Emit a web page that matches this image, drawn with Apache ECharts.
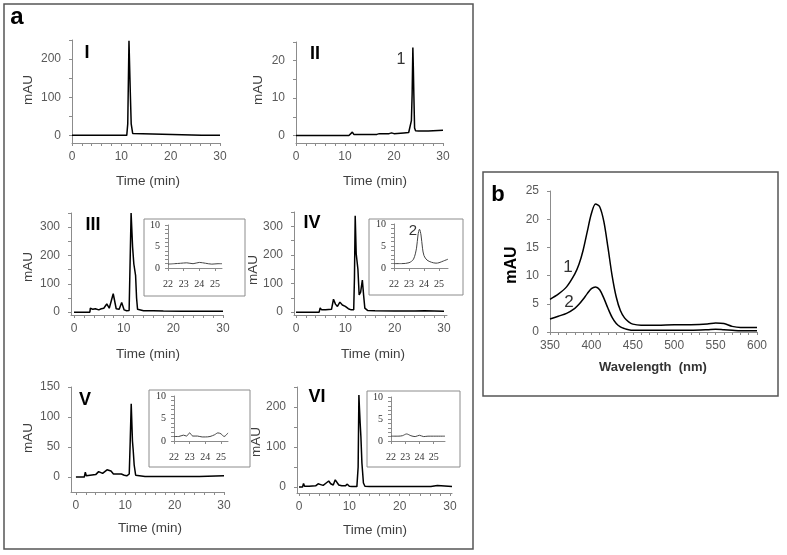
<!DOCTYPE html>
<html><head><meta charset="utf-8">
<script src="https://cdn.jsdelivr.net/npm/echarts@6/dist/echarts.min.js"></script>
<style>html,body{margin:0;padding:0;background:#fff}#c{width:787px;height:555px}</style>
</head><body><div id="c"></div>
<script>
// ---------- DATA ----------
// Panel I
var p1Time = [0, 5.7, 5.9, 6.1, 11.1, 11.3, 11.55, 11.8, 12.0, 12.3, 12.6, 26.3, 26.5, 26.7, 30];
var p1mAU  = [0, 0, 3, 0, 0, 30, 248, 120, 30, 5, 0, 0, 1, 0, 0];
// Panel II
var p2Time = [0, 10.8, 11.2, 11.5, 11.8, 12.2, 16.5, 17, 19, 19.5, 20, 22, 23.0, 23.35, 23.55, 23.7, 23.85, 23.95, 24.05, 24.2, 24.4, 25, 27, 30];
var p2mAU  = [0, 0, 0.3, 0.9, 0.3, 0.2, 0.3, 0.5, 0.5, 0.7, 0.5, 0.7, 0.8, 1.2, 4, 11, 23.5, 18, 11, 2, 1.3, 1.2, 1.2, 1.4];
// Panel III
var p3Time = [0, 3.2, 3.3, 3.8, 4.3, 5.0, 5.5, 6.0, 6.6, 7.1, 7.5, 7.9, 8.5, 9.1, 9.6, 10.1, 10.6, 11.1, 11.25, 11.5, 11.8, 12.05, 12.2, 12.4, 12.6, 12.8, 13.2, 14, 16, 18, 22, 26, 30];
var p3mAU  = [0, 0, 14, 10, 12, 8, 12, 14, 29, 14, 12, 65, 12, 10, 34, 8, 5, 6, 8, 350, 230, 170, 168, 130, 50, 10, 6, 5, 5, 4, 3, 3, 3];
// Panel IV
var p4Time = [0, 4.7, 4.9, 5.2, 6, 7.2, 7.6, 8.0, 8.4, 8.9, 9.4, 10.0, 10.6, 11.2, 11.7, 11.85, 12.0, 12.2, 12.35, 12.55, 12.8, 13.1, 13.45, 13.7, 13.95, 14.5, 16, 20, 23.5, 23.8, 24.1, 26, 30];
var p4mAU  = [0, 0, 15, 8, 8, 10, 45, 28, 20, 35, 25, 20, 12, 8, 8, 120, 337, 205, 200, 150, 60, 70, 112, 60, 14, 6, 5, 4, 4, 10, 4, 5, 3];
// Panel V
var p5Time = [0, 1.7, 1.9, 2.1, 2.5, 4.0, 4.6, 5.0, 5.4, 5.8, 6.3, 6.7, 7.1, 7.6, 8.0, 8.4, 8.8, 9.2, 9.5, 9.8, 10.3, 10.8, 11.0, 11.2, 11.45, 11.6, 11.8, 12.1, 12.5, 14, 20, 25, 30];
var p5mAU  = [0, 0, 8, 2, 3, 4, 9, 10, 6, 8, 12, 14, 10, 5, 6, 5, 6, 5, 8, 3, 2, 5, 60, 122, 60, 45, 20, 3, 1, 1, 1, 1, 2];
// Panel VI
var p6Time = [0, 0.7, 0.9, 1.1, 2, 3.3, 3.8, 4.3, 4.8, 5.4, 5.9, 6.3, 6.8, 7.2, 7.5, 7.9, 8.5, 9.2, 9.6, 10.0, 10.5, 11.5, 11.75, 11.9, 12.0, 12.15, 12.3, 12.5, 12.8, 13.1, 14, 20, 26.2, 26.5, 27.5, 27.8, 30.4];
var p6mAU  = [0, 0, 9, 2, 2, 3, 8, 6, 4, 10, 15, 8, 5, 18, 20, 5, 3, 3, 7, 2, 1, 1, 50, 230, 200, 160, 125, 60, 10, 2, 1, 1, 1, 4, 4, 1, 1];
// Insets (22-26 min)
var i3Time = [22, 22.4, 22.8, 23.2, 23.6, 24.0, 24.4, 24.8, 25.2, 25.45];
var i3mAU  = [0.9, 1.0, 1.1, 1.2, 1.0, 1.3, 1.1, 0.9, 1.0, 1.0];
var i4Time = [22, 22.5, 23, 23.3, 23.5, 23.6, 23.7, 23.8, 23.9, 24.0, 24.2, 24.5, 24.8, 25.0, 25.3, 25.6];
var i4mAU  = [1.0, 1.0, 1.2, 2.0, 4.5, 7.5, 8.8, 7.5, 4.5, 2.8, 1.8, 1.3, 1.1, 1.2, 1.6, 2.0];
var i5Time = [22, 22.3, 22.6, 22.8, 23.0, 23.2, 23.5, 23.8, 24.0, 24.3, 24.6, 24.8, 25.0, 25.2, 25.45];
var i5mAU  = [1.0, 1.0, 1.3, 1.1, 1.8, 1.1, 1.1, 0.9, 0.9, 1.0, 1.4, 1.8, 1.6, 1.0, 1.8];
var i6Time = [22, 22.5, 22.8, 23.1, 23.4, 23.7, 24.0, 24.3, 24.6, 25, 25.8];
var i6mAU  = [1.1, 1.1, 1.2, 1.6, 1.2, 1.0, 1.3, 1.0, 1.1, 1.1, 1.1];
// Panel b spectra
var wavelength = [350, 360, 370, 380, 385, 390, 395, 400, 405, 410, 415, 420, 425, 430, 435, 440, 445, 450, 460, 480, 500, 520, 540, 550, 560, 570, 580, 600];
var spectrum1  = [5.8, 6.7, 8.0, 10.3, 12.0, 14.5, 17.8, 21.0, 22.7, 22.2, 19.6, 15.0, 10.0, 6.2, 3.8, 2.5, 1.8, 1.4, 1.2, 1.2, 1.3, 1.3, 1.4, 1.6, 1.5, 1.0, 0.8, 0.8];
var spectrum2  = [2.3, 2.8, 3.3, 4.2, 4.9, 5.8, 6.8, 7.7, 8.0, 7.5, 6.0, 4.2, 2.6, 1.5, 0.9, 0.6, 0.4, 0.3, 0.3, 0.3, 0.3, 0.3, 0.4, 0.5, 0.4, 0.3, 0.2, 0.2];
// Tick values
var timeLabels = [0, 10, 20, 30];
var timeTicks = [0, 2, 4, 6, 8, 10, 12, 14, 16, 18, 20, 22, 24, 26, 28, 30];
var insetXLabels = [22, 23, 24, 25];
var insetYLabels = [0, 5, 10];
var insetYTicks = [0, 1, 2, 3, 4, 5, 6, 7, 8, 9, 10];
var wlLabels = [350, 400, 450, 500, 550, 600];
var wlTicks = [350, 360, 370, 380, 390, 400, 410, 420, 430, 440, 450, 460, 470, 480, 490, 500, 510, 520, 530, 540, 550, 560, 570, 580, 590, 600];
var bYLabels = [0, 5, 10, 15, 20, 25];

// ---------- BUILD ----------
var SANS = 'Liberation Sans, Arial, sans-serif';
var SERIF = 'Liberation Serif, Times New Roman, serif';
var AX = '#8c8c8c';
var grids = [], xAxes = [], yAxes = [], series = [];

function pairs(a, b) { return a.map(function (x, i) { return [x, b[i]]; }); }

function addPanel(g, xr, yr, xl, xt, yl, yt, data, opt) {
  var idx = grids.length;
  var inset = opt.inset;
  grids.push({ left: g[0], top: g[1], width: g[2], height: g[3] });
  var lab = inset ? { color: '#333', fontSize: 10, fontFamily: SERIF } : { color: '#595959', fontSize: 12, fontFamily: SANS };
  xAxes.push({
    type: 'value', gridIndex: idx, min: xr[0], max: xr[1],
    axisLine: { onZero: false, lineStyle: { color: AX, width: 1 } },
    axisTick: { customValues: xt, length: 3, lineStyle: { color: AX } },
    axisLabel: Object.assign({ customValues: xl, margin: inset ? 11 : 8 }, lab),
    splitLine: { show: false }
  });
  yAxes.push({
    type: 'value', gridIndex: idx, min: yr[0], max: yr[1],
    axisLine: { show: true, onZero: false, lineStyle: { color: AX, width: 1 } },
    axisTick: { show: true, customValues: yt, length: 3, lineStyle: { color: AX } },
    axisLabel: Object.assign({ customValues: yl, margin: inset ? 8 : 11 }, lab),
    splitLine: { show: false }
  });
  data.forEach(function (d) {
    series.push({
      type: 'line', xAxisIndex: idx, yAxisIndex: idx, data: d,
      symbol: 'none', showSymbol: false, animation: false,
      smooth: opt.smooth || false,
      lineStyle: { color: inset ? '#444' : '#000', width: inset ? 1 : 1.5 }
    });
  });
}

var t50 = [0, 50, 100, 150, 200, 250];
var t50b = [0, 50, 100, 150, 200, 250, 300, 350];
addPanel([72, 40, 148, 103], [0, 30], [-20, 250], timeLabels, timeTicks, [0, 100, 200], t50, [pairs(p1Time, p1mAU)], {});
addPanel([296, 42, 147, 101], [0, 30], [-2, 25], timeLabels, timeTicks, [0, 10, 20], [0, 5, 10, 15, 20, 25], [pairs(p2Time, p2mAU)], {});
addPanel([71, 213, 152, 102], [-0.6, 30], [-10, 350], timeLabels, timeTicks, [0, 100, 200, 300], t50b, [pairs(p3Time, p3mAU)], {});
addPanel([294, 212, 153, 103], [-0.4, 30.6], [-10, 350], timeLabels, timeTicks, [0, 100, 200, 300], t50b, [pairs(p4Time, p4mAU)], {});
addPanel([71, 387, 153, 105], [-1, 30], [-25, 150], timeLabels, timeTicks, [0, 50, 100, 150], [0, 50, 100, 150], [pairs(p5Time, p5mAU)], {});
addPanel([297, 387, 155, 106], [-0.4, 30.4], [-15, 250], timeLabels, timeTicks, [0, 100, 200], t50, [pairs(p6Time, p6mAU)], {});
addPanel([168, 225, 54, 43], [22, 25.45], [0, 10], insetXLabels, insetXLabels, insetYLabels, insetYTicks, [pairs(i3Time, i3mAU)], { inset: true, smooth: 0.3 });
addPanel([394, 224, 54, 44], [22, 25.6], [0, 10], insetXLabels, insetXLabels, insetYLabels, insetYTicks, [pairs(i4Time, i4mAU)], { inset: true, smooth: 0.3 });
addPanel([174, 396, 54, 45], [22, 25.45], [0, 10], insetXLabels, insetXLabels, insetYLabels, insetYTicks, [pairs(i5Time, i5mAU)], { inset: true, smooth: 0.3 });
addPanel([391, 397, 54, 44], [22, 25.8], [0, 10], insetXLabels, insetXLabels, insetYLabels, insetYTicks, [pairs(i6Time, i6mAU)], { inset: true, smooth: 0.3 });
addPanel([550, 191, 207, 141], [350, 600], [0, 25], wlLabels, wlTicks, bYLabels, bYLabels, [pairs(wavelength, spectrum1), pairs(wavelength, spectrum2)], { smooth: 0.3 });

function txt(x, y, s, size, opts) {
  opts = opts || {};
  return {
    type: 'text', x: x, y: y, rotation: opts.rot || 0, z: 10,
    style: {
      text: s, fontSize: size, fontFamily: opts.family || SANS, fontWeight: opts.weight || 'normal',
      fill: opts.color || '#404040', align: 'center', verticalAlign: 'middle'
    }
  };
}
function box(x, y, w, h, color, lw) {
  return { type: 'rect', shape: { x: x, y: y, width: w, height: h }, z: 5, style: { fill: 'none', stroke: color, lineWidth: lw } };
}
var R = Math.PI / 2;
var graphics = [
  box(4, 4, 469, 545, '#555', 1.5),
  box(483, 172, 295, 224, '#555', 1.5),
  box(144, 219, 101, 77, '#8c8c8c', 1),
  box(369, 219, 94, 76, '#8c8c8c', 1),
  box(149, 390, 101, 77, '#8c8c8c', 1),
  box(367, 391, 93, 76, '#8c8c8c', 1),
  txt(17, 17, 'a', 24, { weight: 'bold', color: '#000' }),
  txt(498, 195, 'b', 22, { weight: 'bold', color: '#000' }),
  txt(87, 53, 'I', 18, { weight: 'bold', color: '#000' }),
  txt(315, 54, 'II', 18, { weight: 'bold', color: '#000' }),
  txt(93, 225, 'III', 18, { weight: 'bold', color: '#000' }),
  txt(312, 223, 'IV', 18, { weight: 'bold', color: '#000' }),
  txt(85, 400, 'V', 18, { weight: 'bold', color: '#000' }),
  txt(317, 397, 'VI', 18, { weight: 'bold', color: '#000' }),
  txt(401, 60, '1', 16, { color: '#333' }),
  txt(413, 231, '2', 15, { color: '#333' }),
  txt(568, 267, '1', 17, { color: '#333' }),
  txt(569, 302, '2', 17, { color: '#333' }),
  txt(28, 90, 'mAU', 13.5, { rot: R }),
  txt(258, 90, 'mAU', 13.5, { rot: R }),
  txt(28, 267, 'mAU', 13.5, { rot: R }),
  txt(253, 270, 'mAU', 13.5, { rot: R }),
  txt(28, 438, 'mAU', 13.5, { rot: R }),
  txt(256, 442, 'mAU', 13.5, { rot: R }),
  txt(512, 265, 'mAU', 16, { rot: R, weight: 'bold', color: '#000' }),
  txt(148, 181, 'Time (min)', 13.5),
  txt(375, 181, 'Time (min)', 13.5),
  txt(148, 354, 'Time (min)', 13.5),
  txt(373, 354, 'Time (min)', 13.5),
  txt(150, 528, 'Time (min)', 13.5),
  txt(375, 530, 'Time (min)', 13.5),
  txt(653, 367, 'Wavelength  (nm)', 13, { weight: 'bold', color: '#333' })
];

var chart = echarts.init(document.getElementById('c'), null, { renderer: 'canvas' });
chart.setOption({
  animation: false,
  backgroundColor: '#fff',
  grid: grids, xAxis: xAxes, yAxis: yAxes, series: series,
  graphic: graphics
});
</script></body></html>
